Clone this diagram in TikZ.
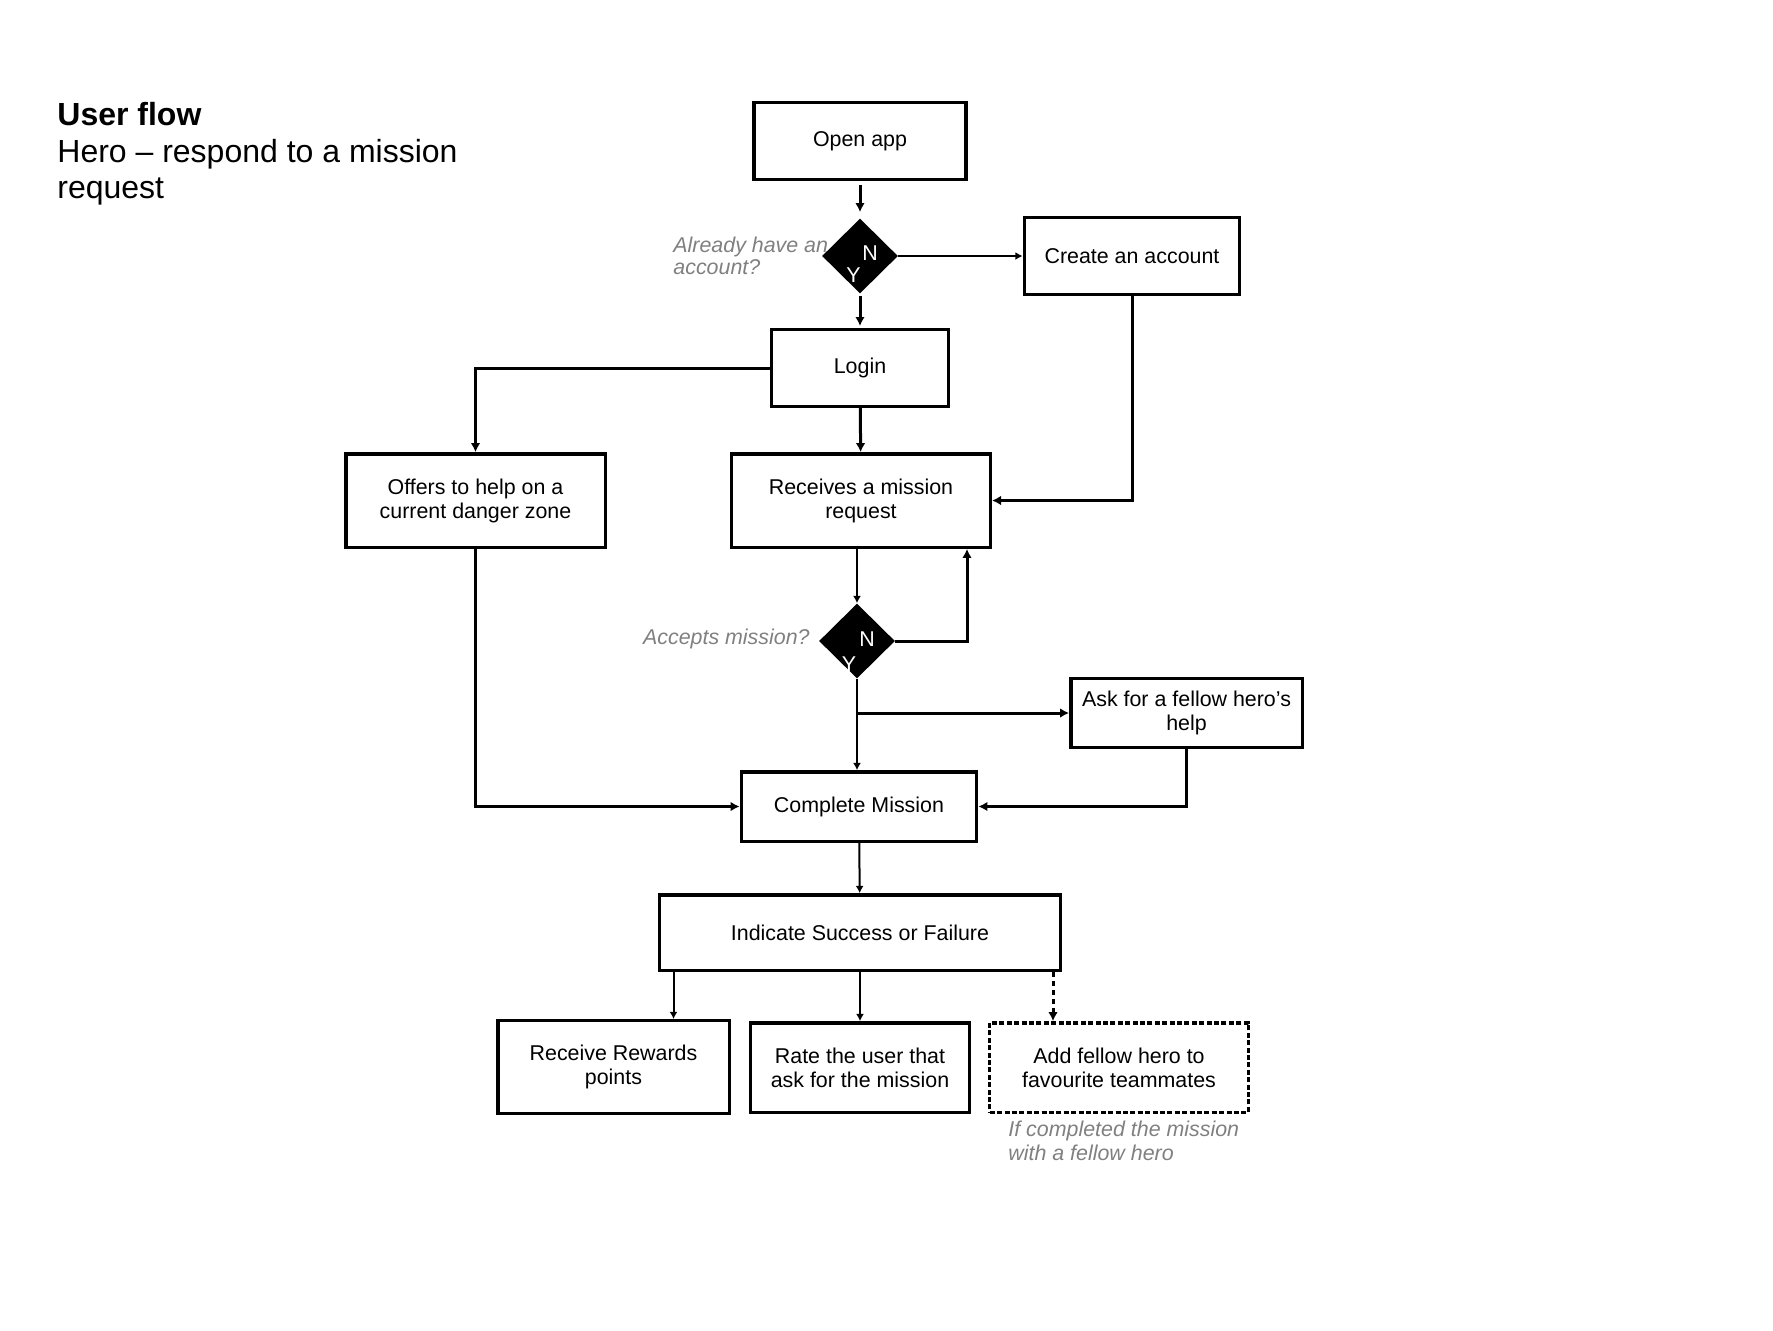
\documentclass[tikz,border=0pt]{standalone}
\usepackage{fontspec}
\setmainfont{Liberation Sans}
\usetikzlibrary{arrows.meta,shapes.geometric}
\definecolor{notegray}{RGB}{128,128,128}

\begin{document}
\begin{tikzpicture}[x=0.5pt,y=-0.5pt,
  box/.style={draw,line width=1.7pt,align=center,inner sep=0pt,font=\fontsize{10.7}{12}\selectfont},
  choice/.style={diamond,fill=black,inner sep=0pt,minimum width=38pt,minimum height=37.5pt},
  yn/.style={text=white,inner sep=0pt,font=\fontsize{10.7}{12}\selectfont},
  note/.style={text=notegray,align=left,inner sep=0pt,font=\fontsize{10.7}{11}\selectfont\itshape},
  flow/.style={line width=1.5pt,-{Latex[length=4.5pt,width=4.8pt]}},
  thinflow/.style={line width=1pt,-{Latex[length=3.6pt,width=4pt]}}]
\useasboundingbox (0,0) rectangle (1773,1330);

% title
\node[anchor=base west,inner sep=0pt,font=\fontsize{16}{18.5}\selectfont\bfseries] (title) at (57,125) {User flow};
\node[anchor=base west,inner sep=0pt,font=\fontsize{16}{18.5}\selectfont] (subtitle) at (57,162) {Hero – respond to a mission};
\node[anchor=base west,inner sep=0pt,font=\fontsize{16}{18.5}\selectfont] (subtitle2) at (57,198) {request};

% notes
\node[note,anchor=north west] (q1) at (673,237) {Already have an\\account?};
\node[note,anchor=base east] (q2) at (810,644) {Accepts mission?};
\node[note,anchor=north west,font=\fontsize{10.7}{12}\selectfont\itshape] (cond) at (1008,1121) {If completed the mission\\with a fellow hero};

% steps
\node[box,minimum width=106pt,minimum height=38.3pt] (open) at (860,141) {Open app};
\node[choice] (ask1) at (860,256) {};
\node[box,minimum width=107.7pt,minimum height=38.7pt] (create) at (1132,256) {Create an account};
\node[box,minimum width=88.3pt,minimum height=38.3pt] (login) at (860,368) {Login};
\node[box,minimum width=129.7pt,minimum height=46.7pt] (offers) at (475.5,500.5) {Offers to help on a\\current danger zone};
\node[box,minimum width=129.3pt,minimum height=46.7pt] (receives) at (861,500.5) {Receives a mission\\request};
\node[choice] (ask2) at (857,641) {};
\node[box,minimum width=115.7pt,minimum height=34.3pt] (fellow) at (1186.5,713) {Ask for a fellow hero’s\\help};
\node[box,minimum width=117.7pt,minimum height=34.7pt] (complete) at (859,806.5) {Complete Mission};
\node[box,minimum width=200.7pt,minimum height=37.7pt] (result) at (860,932.5) {Indicate Success or Failure};
\node[box,minimum width=115.7pt,minimum height=46.3pt] (rewards) at (613.5,1067) {Receive Rewards\\points};
\node[box,minimum width=109.7pt,minimum height=44.7pt] (rate) at (860,1067.5) {Rate the user that\\ask for the mission};
\node[box,dash pattern=on 2.5pt off 1.2pt,minimum width=129.3pt,minimum height=44.7pt] (team) at (1119,1067.5) {Add fellow hero to\\favourite teammates};

\node[yn] (n1) at (870,253) {N};
\node[yn] (y1) at (853.5,275.5) {Y};
\node[yn] (n2) at (867,639) {N};
\node[yn] (y2) at (849,664) {Y};

% links
\draw[flow,shorten <=2pt,shorten >=3pt] (open) -- (ask1);
\draw[thinflow] (ask1.east) -- (create.west);
\draw[flow,shorten <=1pt,shorten >=1pt] (ask1) -- (login);
\draw[flow] (login.west) -| (offers.north);
\draw[flow] (login) -- (receives);
\draw[flow] (create.south) |- (receives.east);
\draw[thinflow] (receives.south -| ask2.north) -- (ask2.north);
\coordinate (back) at ([xshift=-12.5pt]receives.south east);
\draw[flow] (ask2.east) -| (back);
\draw[thinflow] (ask2.south) -- (ask2.south |- complete.north);
\draw[flow] (ask2.south |- fellow.west) -- (fellow.west);
\draw[flow] (offers.south) |- (complete.west);
\draw[flow] (fellow.south) |- (complete.east);
\draw[thinflow] (complete) -- (result);
\coordinate (r1) at ([xshift=30pt]rewards.north);
\coordinate (t1) at ([xshift=-33pt]team.north);
\draw[thinflow] (r1 |- result.south) -- (r1);
\draw[thinflow] (result.south -| rate.north) -- (rate.north);
\draw[flow,dash pattern=on 2.5pt off 2pt] (t1 |- result.south) -- (t1);
\end{tikzpicture}
\end{document}
